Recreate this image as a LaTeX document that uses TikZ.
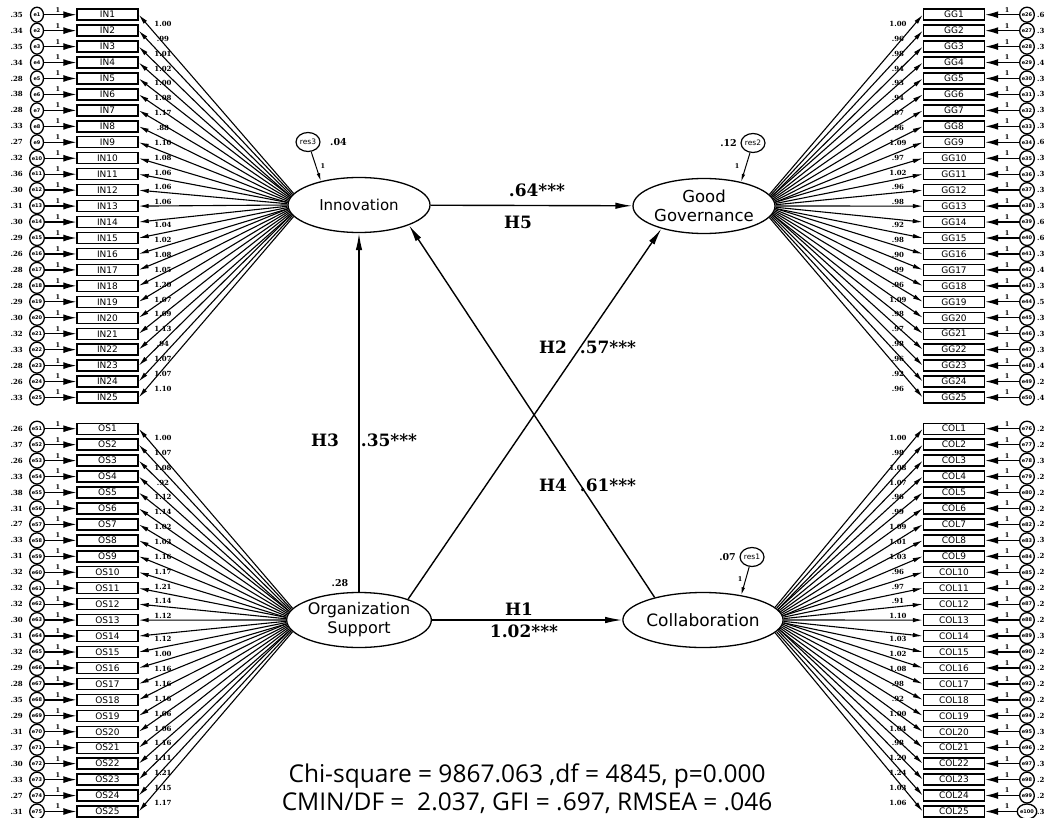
\documentclass[tikz,border=0pt]{standalone}
\usepackage{fontspec}
\setmainfont{DejaVu Sans}
\newfontfamily\numf{DejaVu Serif}
\newfontfamily\fitf{Open Sans}
\usetikzlibrary{arrows.meta,calc,shapes.geometric}

\begin{document}
\begin{tikzpicture}[x=1pt,y=-1pt,
  ind/.style={draw,line width=1.4pt,minimum width=61pt,minimum height=11pt,inner sep=0pt,font=\fontsize{9}{9}\selectfont},
  err/.style={draw,ellipse,line width=1.3pt,minimum width=13pt,minimum height=15pt,inner sep=0pt,font=\bfseries\fontsize{5}{5}\selectfont},
  lat/.style={draw,ellipse,line width=1.3pt,minimum width=142pt,minimum height=55pt,inner sep=0pt,align=center},
  res/.style={draw,ellipse,line width=1.2pt,minimum width=24pt,minimum height=19pt,inner sep=0pt,font=\fontsize{7.5}{8}\selectfont},
  num/.style={font=\numf\bfseries\fontsize{7}{8}\selectfont,inner sep=0pt},
  one/.style={font=\numf\bfseries\fontsize{6.5}{7}\selectfont,inner sep=0pt},
  rnum/.style={font=\numf\bfseries\fontsize{9.5}{11}\selectfont,inner sep=0pt},
  plab/.style={font=\numf\bfseries\fontsize{17}{18}\selectfont,inner sep=0pt},
  ldg/.style={line width=1.1pt,-{Latex[length=10pt,width=4.5pt]}},
  fix/.style={line width=1.3pt,-{Latex[length=13pt,width=7pt]}},
  rarr/.style={line width=1pt,-{Latex[length=8pt,width=3.5pt]}},
  str/.style={line width=1.4pt,-{Latex[length=17pt,width=6.5pt]}},
]
\useasboundingbox (0,0) rectangle (1051,818);

% latent constructs
\node[lat,font=\fontsize{15}{19}\selectfont] (Inn) at (359,205) {Innovation};
\node[lat,font=\fontsize{16.5}{19}\selectfont] (Gov) at (704,206) {Good\\Governance};
\node[lat,font=\fontsize{16}{19}\selectfont] (Org) at (359,620) {Organization\\Support};
\node[lat,font=\fontsize{17}{19}\selectfont] (Col) at (703,620) {Collaboration};

% Innovation indicators
\foreach \v/\l [count=\i] in {.35/1.00,.34/.99,.35/1.01,.34/1.02,.28/1.00,.38/1.08,.28/1.17,.33/.88,.27/1.10,.32/1.08,.36/1.06,.30/1.06,.31/1.06,.30/1.04,.29/1.02,.26/1.08,.28/1.05,.28/1.20,.29/1.07,.30/1.09,.32/1.13,.33/.94,.28/1.07,.26/1.07,.33/1.10}{
  \pgfmathsetmacro\yy{14.7+(\i-1)*15.95}
  \pgfmathsetmacro\off{ifthenelse(\i<14,9.3-(\i-1)*1.1,3-(\i-14)*1.05)}
  \pgfmathtruncatemacro\ang{round(170+(\i-1)*20/24)}
  \node[ind] (IN\i) at (107.5,\yy) {IN\i};
  \node[err] (eI\i) at (37,\yy) {e\i};
  \node[num,anchor=east] at (23,\yy) {\v};
  \draw[fix] (eI\i) -- (IN\i);
  \node[one] at (58,\yy-5) {1};
  \draw[ldg] (Inn.\ang) -- (IN\i.east);
  \node[num] at (163,\yy+\off) {\l};
}

% Organization Support indicators
\foreach \v/\l [count=\i] in {.26/1.00,.37/1.07,.26/1.08,.33/.92,.38/1.12,.31/1.14,.27/1.02,.33/1.03,.31/1.16,.32/1.17,.32/1.21,.32/1.14,.30/1.12,.31/1.12,.32/1.00,.29/1.16,.28/1.16,.35/1.16,.29/1.06,.31/1.06,.37/1.16,.30/1.11,.33/1.21,.27/1.15,.31/1.17}{
  \pgfmathsetmacro\yy{428.7+(\i-1)*15.95}
  \pgfmathsetmacro\off{ifthenelse(\i<14,9.3-(\i-1)*1.1,3-(\i-14)*1.05)}
  \pgfmathtruncatemacro\ang{round(170+(\i-1)*20/24)}
  \pgfmathtruncatemacro\en{\i+50}
  \node[ind] (OS\i) at (107.5,\yy) {OS\i};
  \node[err] (eO\i) at (37,\yy) {e\en};
  \node[num,anchor=east] at (23,\yy) {\v};
  \draw[fix] (eO\i) -- (OS\i);
  \node[one] at (58,\yy-5) {1};
  \draw[ldg] (Org.\ang) -- (OS\i.east);
  \node[num] at (163,\yy+\off) {\l};
}

% Good Governance indicators
\foreach \v/\l [count=\i] in {.6/1.00,.3/.96,.3/.98,.4/.94,.3/.93,.3/.94,.3/.97,.3/.96,.6/1.09,.3/.97,.3/1.02,.3/.96,.3/.98,.6/.92,.6/.98,.3/.90,.4/.99,.3/.96,.5/1.09,.3/.98,.3/.97,.3/.98,.4/.96,.2/.92,.4/.96}{
  \pgfmathsetmacro\yy{14.7+(\i-1)*15.95}
  \pgfmathsetmacro\off{ifthenelse(\i<14,9.3-(\i-1)*1.1,3-(\i-14)*1.05)}
  \pgfmathtruncatemacro\ang{mod(round(370-(\i-1)*20/24),360)}
  \pgfmathtruncatemacro\en{\i+25}
  \node[ind] (GG\i) at (954,\yy) {GG\i};
  \node[err] (eG\i) at (1027,\yy) {e\en};
  \node[num,anchor=west] at (1037,\yy) {\v};
  \draw[fix] (eG\i) -- (GG\i);
  \node[one] at (1007,\yy-5) {1};
  \draw[ldg] (Gov.\ang) -- (GG\i.west);
  \node[num] at (898,\yy+\off) {\l};
}

% Collaboration indicators
\foreach \v/\l [count=\i] in {.2/1.00,.2/.98,.3/1.08,.2/1.07,.2/.96,.2/.99,.2/1.09,.3/1.01,.2/1.03,.2/.96,.2/.97,.2/.91,.2/1.10,.3/1.03,.2/1.02,.2/1.08,.2/.98,.2/.92,.2/1.00,.3/1.04,.2/.98,.3/1.20,.2/1.24,.2/1.03,.3/1.06}{
  \pgfmathsetmacro\yy{428.7+(\i-1)*15.95}
  \pgfmathsetmacro\off{ifthenelse(\i<14,9.3-(\i-1)*1.1,3-(\i-14)*1.05)}
  \pgfmathtruncatemacro\ang{mod(round(370-(\i-1)*20/24),360)}
  \pgfmathtruncatemacro\en{\i+75}
  \node[ind] (COL\i) at (954,\yy) {COL\i};
  \node[err] (eC\i) at (1027,\yy) {e\en};
  \node[num,anchor=west] at (1037,\yy) {\v};
  \draw[fix] (eC\i) -- (COL\i);
  \node[one] at (1007,\yy-5) {1};
  \draw[ldg] (Col.\ang) -- (COL\i.west);
  \node[num] at (898,\yy+\off) {\l};
}

% residuals of the endogenous constructs
\node[res] (r3) at (308,142) {res3};
\node[rnum,anchor=west] at (330,142) {.04};
\draw[rarr] (r3) -- (Inn.148);
\node[one] at (323,166) {1};

\node[res] (r2) at (753,143) {res2};
\node[rnum,anchor=east] at (737,143) {.12};
\draw[rarr] (r2) -- (Gov.33);
\node[one] at (737,166) {1};

\node[res] (r1) at (752,557) {res1};
\node[rnum,anchor=east] at (736,557) {.07};
\draw[rarr] (r1) -- (Col.33);
\node[one] at (740,579) {1};

\node[rnum] at (340,583) {.28};

% structural paths
\draw[str] (Inn) -- (Gov);
\draw[str] (Org) -- (Col);
\draw[str] (Org) -- (Inn);
\draw[str] (Org.23) -- (Gov.208);
\draw[str] (Col.155) -- (Inn.338);

\node[plab] at (537,190) {.64***};
\node[plab] at (518,222) {H5};
\node[plab] at (519,609) {H1};
\node[plab] at (524,631) {1.02***};
\node[plab] at (325,440) {H3};
\node[plab] at (389,440) {.35***};
\node[plab] at (553,347) {H2};
\node[plab] at (608,347) {.57***};
\node[plab] at (553,485) {H4};
\node[plab] at (608,485) {.61***};

% model fit
\node[font=\fitf\fontsize{24.5}{27}\selectfont,inner sep=0pt] (fit1) at (527,776) {Chi-square = 9867.063 ,df = 4845, p=0.000};
\node[font=\fitf\fontsize{24.5}{27}\selectfont,inner sep=0pt] (fit2) at (527,803) {CMIN/DF =\ \ 2.037, GFI = .697, RMSEA = .046};
\end{tikzpicture}
\end{document}
